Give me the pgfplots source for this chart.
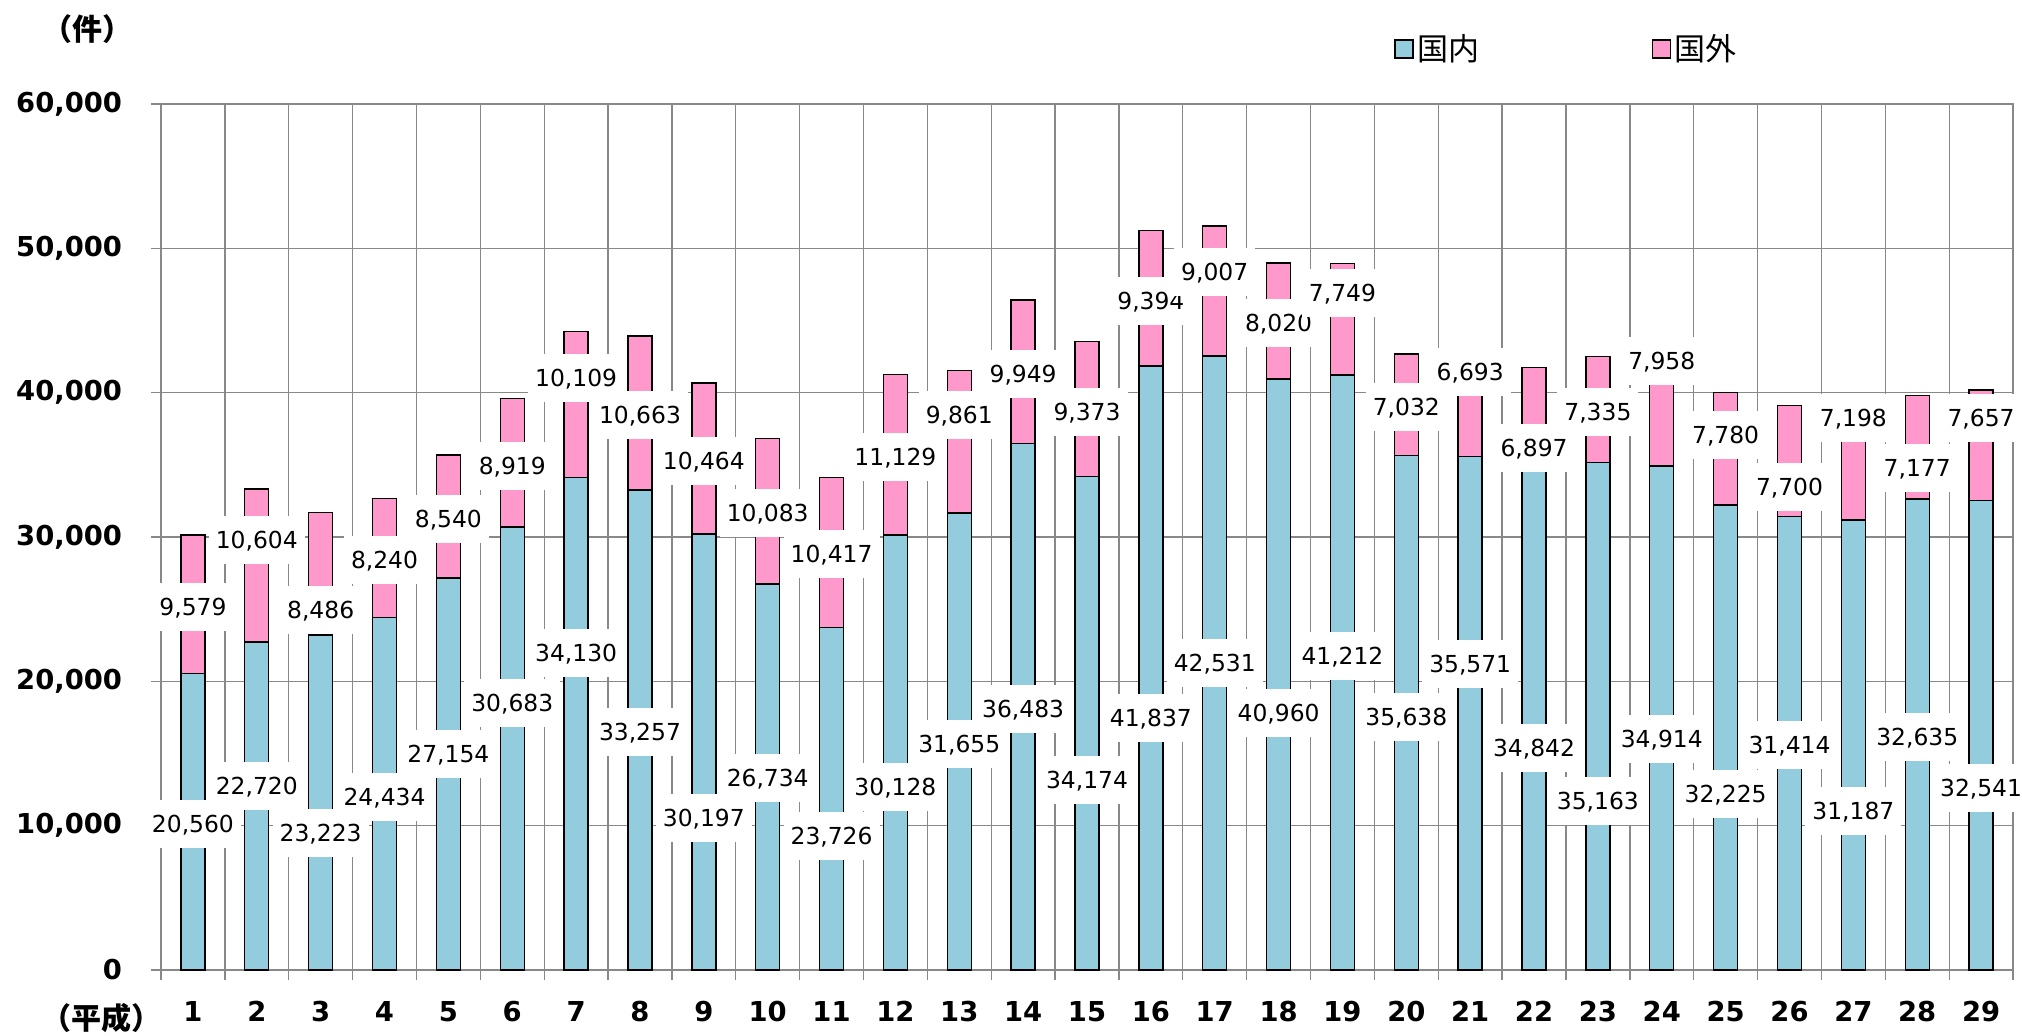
\documentclass[border=0pt]{standalone}
\usepackage{pgfplots}
\pgfplotsset{compat=1.18}
\usepackage{pgfplotstable}
\usepackage{fontspec}
\setmainfont{DejaVu Sans}
\newfontfamily\jp{Noto Sans CJK JP}
\definecolor{domc}{RGB}{147,205,221}
\definecolor{frnc}{RGB}{255,153,204}
\definecolor{gridc}{RGB}{136,136,136}
\pgfplotstableread{
x dom frn dy fy
1 20560 9579 10116 25171
2 22720 10604 12748 29793
3 23223 8486 9469 24943
4 24434 8240 12009 28407
5 27154 8540 14966 31226
6 30683 8919 18476 34920
7 34130 10109 21941 40995
8 33257 10663 16512 38454
9 30197 10464 10508 35266
10 26734 10083 13280 31642
11 23726 10417 9284 28823
12 30128 11129 12702 35521
13 31655 9861 15636 38454
14 36483 9949 18061 41272
15 34174 9373 13164 38683
16 41837 9394 17484 46352
17 42531 9007 21294 48383
18 40960 8020 17830 44805
19 41212 7749 21756 46884
20 35638 7032 17507 39030
21 35571 6693 21201 41411
22 34842 6897 15360 36146
23 35163 7335 11709 38638
24 34914 7958 16005 42195
25 32225 7780 12194 37067
26 31414 7700 15590 33486
27 31187 7198 11040 38223
28 32635 7177 16165 34760
29 32541 7657 12587 38223
}\data
\begin{document}
\begin{tikzpicture}
\useasboundingbox (0,0) rectangle (1011pt,517.5pt);
\begin{axis}[
  at={(80.5pt,32.5pt)}, anchor=south west,
  scale only axis, width=926pt, height=433pt,
  xmin=0.5, xmax=29.5, ymin=0, ymax=60000,
  ybar stacked, bar width=12pt,
  xtick={0.5,1.5,...,29.5}, xticklabels={},
  extra x ticks={1,2,...,29},
  extra x tick labels={1,2,3,4,5,6,7,8,9,10,11,12,13,14,15,16,17,18,19,20,21,22,23,24,25,26,27,28,29},
  extra x tick style={grid=none, major tick length=0pt},
  ytick={0,10000,20000,30000,40000,50000,60000},
  yticklabels={0,{10,000},{20,000},{30,000},{40,000},{50,000},{60,000}},
  scaled y ticks=false,
  xmajorgrids, ymajorgrids,
  grid style={gridc, line width=0.65pt},
  axis line style={gridc, line width=0.9pt},
  tick style={gridc, line width=0.65pt},
  tick align=outside, major tick length=5pt,
  xtick pos=bottom, ytick pos=left,
  tick label style={font=\fontsize{13.7}{16}\selectfont\bfseries},
  xticklabel style={yshift=-12pt},
  yticklabel style={xshift=-11pt},
  /pgf/number format/assume math mode=true,
  clip=false,
]
\addplot[fill=domc, draw=black, line width=0.7pt] table[x=x,y=dom]{\data};
\addplot[fill=frnc, draw=black, line width=0.7pt] table[x=x,y=frn]{\data};
\end{axis}
\begin{axis}[
  at={(80.5pt,32.5pt)}, anchor=south west,
  scale only axis, width=926pt, height=433pt,
  xmin=0.5, xmax=29.5, ymin=0, ymax=60000,
  hide axis, clip=false,
  nodes near coords={\pgfmathprintnumber[assume math mode=true,1000 sep={,},fixed,precision=0]{\pgfplotspointmeta}},
  every node near coord/.append style={anchor=center, fill=white, font=\fontsize{11.7}{14}\selectfont, inner xsep=3.5pt, inner ysep=0pt, text height=8.5pt, text depth=0pt, minimum height=24pt},
  legend columns=2,
  legend image code/.code={\draw[#1] (0pt,-4.5pt) rectangle (9pt,4.5pt);},
  legend style={draw=none, fill=none, at={(0.6658,1.0635)}, anchor=west, inner sep=0pt,
    font=\jp\fontsize{15.5}{18}\selectfont,
    /tikz/every even column/.append style={column sep=84pt}},
]
\addlegendimage{fill=domc, draw=black, line width=0.6pt}
\addlegendentry{国内}
\addlegendimage{fill=frnc, draw=black, line width=0.6pt}
\addlegendentry{国外}
\addplot[forget plot, only marks, mark=*, mark options={draw=none, fill=none}, point meta=explicit] table[x=x,y=dy,meta=dom]{\data};
\addplot[forget plot, only marks, mark=*, mark options={draw=none, fill=none}, point meta=explicit] table[x=x,y=fy,meta=frn]{\data};
\end{axis}
\node[font=\jp\bfseries\fontsize{15}{17}\selectfont] at (43.5pt,503pt) {（件）};
\node[font=\jp\bfseries\fontsize{15}{17}\selectfont] at (50.75pt,8.5pt) {（平成）};
\end{tikzpicture}
\end{document}
